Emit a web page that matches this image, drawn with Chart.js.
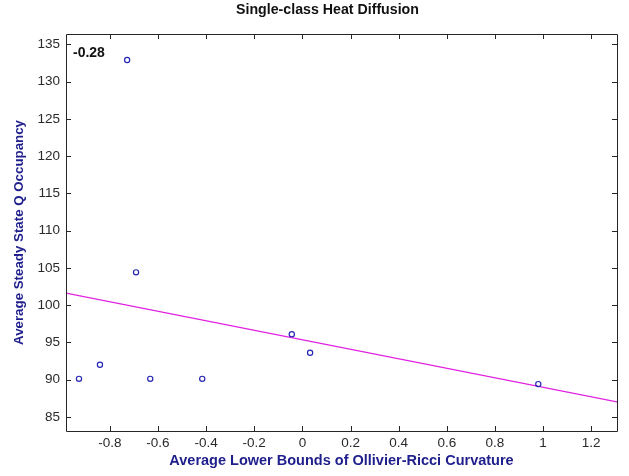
<!DOCTYPE html>
<html>
<head>
<meta charset="utf-8">
<script src="https://cdn.jsdelivr.net/npm/chart.js@4.4.0/dist/chart.umd.min.js"></script>
<style>
  html, body { margin: 0; padding: 0; background: #fff; }
  #wrap { width: 629px; height: 476px; }
</style>
</head>
<body>
<div id="wrap"><canvas id="heatChart" width="629" height="476"></canvas></div>
<script>
// scatter points (curvature, queue occupancy)
const ptX = [-0.928, -0.841, -0.728, -0.691, -0.632, -0.416, -0.044, 0.032, 0.980];
const ptY = [90.1, 92.0, 132.9, 104.4, 90.1, 90.1, 96.1, 93.6, 89.4];

// least-squares fit line end points
const fitX = [-0.982, 1.307];
const fitY = [101.6, 87.0];

const xTicks = [-0.8, -0.6, -0.4, -0.2, 0, 0.2, 0.4, 0.6, 0.8, 1, 1.2];
const yTicks = [85, 90, 95, 100, 105, 110, 115, 120, 125, 130, 135];
const titleText = "Single-class Heat Diffusion";
const corrLabel = "-0.28";

const navy = "#1e1e8c";
const sans = "'Liberation Sans', Arial, sans-serif";
const tickFont = { family: sans, size: 13.5 };

// MATLAB style box with inward ticks on all four sides, plus the title and r value
const frame = {
  id: "frame",
  afterDraw(chart) {
    const { ctx, chartArea: a, scales } = chart;
    const x = scales.x, y = scales.y;
    ctx.save();
    ctx.strokeStyle = "#262626";
    ctx.lineWidth = 1;
    ctx.beginPath();
    ctx.rect(Math.round(a.left) + 0.5, Math.round(a.top) + 0.5, Math.round(a.width), Math.round(a.height));
    xTicks.forEach((v) => {
      const px = Math.round(x.getPixelForValue(v)) + 0.5;
      ctx.moveTo(px, a.bottom); ctx.lineTo(px, a.bottom - 5);
      ctx.moveTo(px, a.top); ctx.lineTo(px, a.top + 5);
    });
    yTicks.forEach((v) => {
      const py = Math.round(y.getPixelForValue(v)) + 0.5;
      ctx.moveTo(a.left, py); ctx.lineTo(a.left + 5, py);
      ctx.moveTo(a.right, py); ctx.lineTo(a.right - 5, py);
    });
    ctx.stroke();

    ctx.fillStyle = "#111";
    ctx.font = "bold 14px " + sans;
    ctx.textBaseline = "middle";
    ctx.fillText(corrLabel, a.left + 7, a.top + 19);

    ctx.font = "bold 14.2px " + sans;
    ctx.textAlign = "center";
    ctx.textBaseline = "alphabetic";
    ctx.fillText(titleText, 327.5, 13.5);
    ctx.restore();
  },
};

const ctx = document.getElementById("heatChart").getContext("2d");
new Chart(ctx, {
  type: "scatter",
  data: {
    datasets: [
      {
        label: "nodes",
        data: ptX.map((v, i) => ({ x: v, y: ptY[i] })),
        pointStyle: "circle",
        pointRadius: 2.6,
        borderWidth: 1.2,
        borderColor: "#2626b4",
        backgroundColor: "rgba(255,255,255,0)",
      },
      {
        type: "line",
        label: "fit",
        data: fitX.map((v, i) => ({ x: v, y: fitY[i] })),
        borderColor: "#e020e0",
        borderWidth: 1.2,
        pointRadius: 0,
        fill: false,
      },
    ],
  },
  options: {
    responsive: false,
    animation: false,
    devicePixelRatio: 1,
    layout: { padding: { left: 0, right: 12, top: 34, bottom: 0 } },
    plugins: {
      legend: { display: false },
      tooltip: { enabled: false },
      title: { display: false },
    },
    scales: {
      x: {
        type: "linear",
        min: fitX[0],
        max: fitX[1],
        grid: { display: false, drawTicks: false, tickLength: 0 },
        border: { display: false },
        afterBuildTicks: (s) => { s.ticks = xTicks.map((v) => ({ value: v })); },
        afterFit: (s) => { s.height = 45; },
        ticks: { color: "#2a2a2a", font: tickFont, padding: 4, maxRotation: 0, callback: (v) => String(v) },
        title: {
          display: true,
          text: "Average Lower Bounds of Ollivier-Ricci Curvature",
          color: navy,
          font: { family: sans, size: 14.5, weight: "bold" },
          padding: { top: 0, bottom: 6 },
        },
      },
      y: {
        type: "linear",
        min: 83.1,
        max: 136.4,
        grid: { display: false, drawTicks: false, tickLength: 0 },
        border: { display: false },
        afterBuildTicks: (s) => { s.ticks = yTicks.map((v) => ({ value: v })); },
        afterFit: (s) => { s.width = 66; },
        ticks: { color: "#2a2a2a", font: tickFont, padding: 6, callback: (v) => String(v) },
        title: {
          display: true,
          text: "Average Steady State Q Occupancy",
          color: navy,
          font: { family: sans, size: 13.3, weight: "bold" },
          padding: { top: 11, bottom: 0 },
        },
      },
    },
  },
  plugins: [frame],
});
</script>
</body>
</html>
